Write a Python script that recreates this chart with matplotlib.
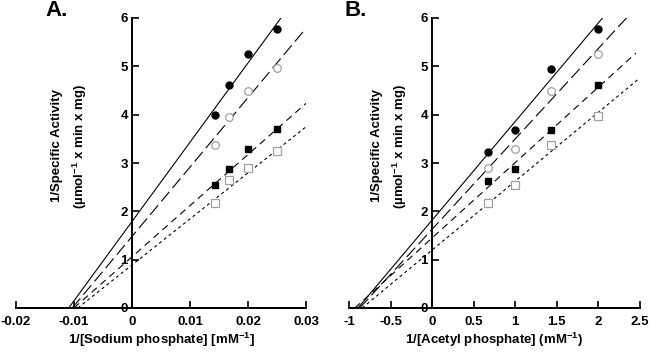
import matplotlib
matplotlib.use('Agg')
import matplotlib.pyplot as plt
import numpy as np

plt.rcParams['font.family'] = ['Liberation Sans', 'DejaVu Sans']
plt.rcParams['font.weight'] = 'bold'
plt.rcParams['axes.labelweight'] = 'bold'
plt.rcParams['mathtext.fontset'] = 'custom'
plt.rcParams['mathtext.rm'] = 'Liberation Sans:bold'
plt.rcParams['mathtext.default'] = 'rm'
plt.rcParams['lines.scale_dashes'] = False

# ---------------- data: panel A (sodium phosphate) ----------------
xA = [1/70, 1/60, 1/50, 1/40]
A_filled_circle = [4.00, 4.62, 5.25, 5.78]
A_open_circle = [3.37, 3.95, 4.50, 4.97]
A_filled_square = [2.55, 2.87, 3.30, 3.70]
A_open_square = [2.18, 2.65, 2.90, 3.25]
# fitted lines (intercept, slope, x end)
A_intercepts = [1.79, 1.48, 1.06, 0.89]
A_slopes = [164.0, 143.6, 105.8, 95.3]
A_xend = [0.0257, 0.030, 0.030, 0.030]

# ---------------- data: panel B (acetyl phosphate) ----------------
xB = [0.667, 1.0, 1.43, 2.0]
B_filled_circle = [3.23, 3.68, 4.95, 5.78]
B_open_circle = [2.90, 3.30, 4.50, 5.25]
B_filled_square = [2.63, 2.87, 3.68, 4.62]
B_open_square = [2.18, 2.55, 3.37, 3.98]
B_intercepts = [1.82, 1.63, 1.45, 1.20]
B_slopes = [2.04, 1.87, 1.56, 1.425]
B_xend = [2.05, 2.34, 2.45, 2.47]

A_xticks = [-0.02, -0.01, 0, 0.01, 0.02, 0.03]
A_xticklabels = ['-0.02', '-0.01', '0', '0.01', '0.02', '0.03']
B_xticks = [-1, -0.5, 0, 0.5, 1, 1.5, 2, 2.5]
B_xticklabels = ['-1', '-0.5', '0', '0.5', '1', '1.5', '2', '2.5']
yticks = [0, 1, 2, 3, 4, 5, 6]

W, H = 650, 357
fig = plt.figure(figsize=(W/100, H/100), dpi=100)
axA = fig.add_axes([16/W, 1-308/H, 290/W, 290/H])
axB = fig.add_axes([349/W, 1-308/H, 291/W, 290/H])

line_styles = [dict(linestyle='-'),
               dict(dashes=(9, 3.5)),
               dict(dashes=(5, 3.5)),
               dict(dashes=(2.2, 2.2))]
marker_styles = [dict(marker='o', mfc='black', mec='black', ms=5),
                 dict(marker='o', mfc='white', mec='#a0a0a0', ms=5.5, mew=0.9),
                 dict(marker='s', mfc='black', mec='black', ms=5),
                 dict(marker='s', mfc='white', mec='#a0a0a0', ms=5.5, mew=0.9)]


def draw(ax, x, series, intercepts, slopes, xends, xlim, xticks, xticklabels, xlabel):
    for i in range(4):
        b, m, xe = intercepts[i], slopes[i], xends[i]
        xs = np.array([-b/m, xe])
        ax.plot(xs, b + m*xs, color='black', lw=0.8, **line_styles[i])
    for i, ys in enumerate(series):
        ax.plot(x, ys, linestyle='none', zorder=3, **marker_styles[i])
    ax.set_xlim(*xlim)
    ax.set_ylim(0, 6)
    ax.spines['top'].set_visible(False)
    ax.spines['right'].set_visible(False)
    ax.spines['left'].set_position(('data', 0))
    for s in ('left', 'bottom'):
        ax.spines[s].set_linewidth(1.4)
    ax.tick_params(direction='in', length=5, width=1.2, labelsize=9.5)
    ax.tick_params(axis='x', pad=6)
    ax.tick_params(axis='y', pad=3)
    ax.set_xticks(xticks)
    ax.set_xticklabels(xticklabels, fontweight='bold', fontsize=9.5)
    ax.set_yticks(yticks)
    ax.set_yticklabels([str(v) for v in yticks], fontweight='bold', fontsize=9.5)
    ax.set_xlabel(xlabel, fontsize=9.5, fontweight='bold', labelpad=2)


draw(axA, xA, [A_filled_circle, A_open_circle, A_filled_square, A_open_square],
     A_intercepts, A_slopes, A_xend, (-0.02, 0.03), A_xticks, A_xticklabels,
     '1/[Sodium phosphate] [mM$^{-1}$]')
draw(axB, xB, [B_filled_circle, B_open_circle, B_filled_square, B_open_square],
     B_intercepts, B_slopes, B_xend, (-1, 2.5), B_xticks, B_xticklabels,
     '1/[Acetyl phosphate] (mM$^{-1}$)')

for x0 in (57, 377):
    fig.text(x0/W, 1-146/H, '1/Specific Activity', rotation=90,
             ha='center', va='center', fontsize=9.5, fontweight='bold')
    fig.text((x0+23)/W, 1-146/H, '(µmol$^{-1}$ x min x mg)', rotation=90,
             ha='center', va='center', fontsize=9.5, fontweight='bold')

fig.text(45/W, 1-10/H, 'A.', fontsize=16, fontweight='bold', ha='left', va='center')
fig.text(345/W, 1-10/H, 'B.', fontsize=16, fontweight='bold', ha='left', va='center')

fig.savefig('out.png', dpi=100)
